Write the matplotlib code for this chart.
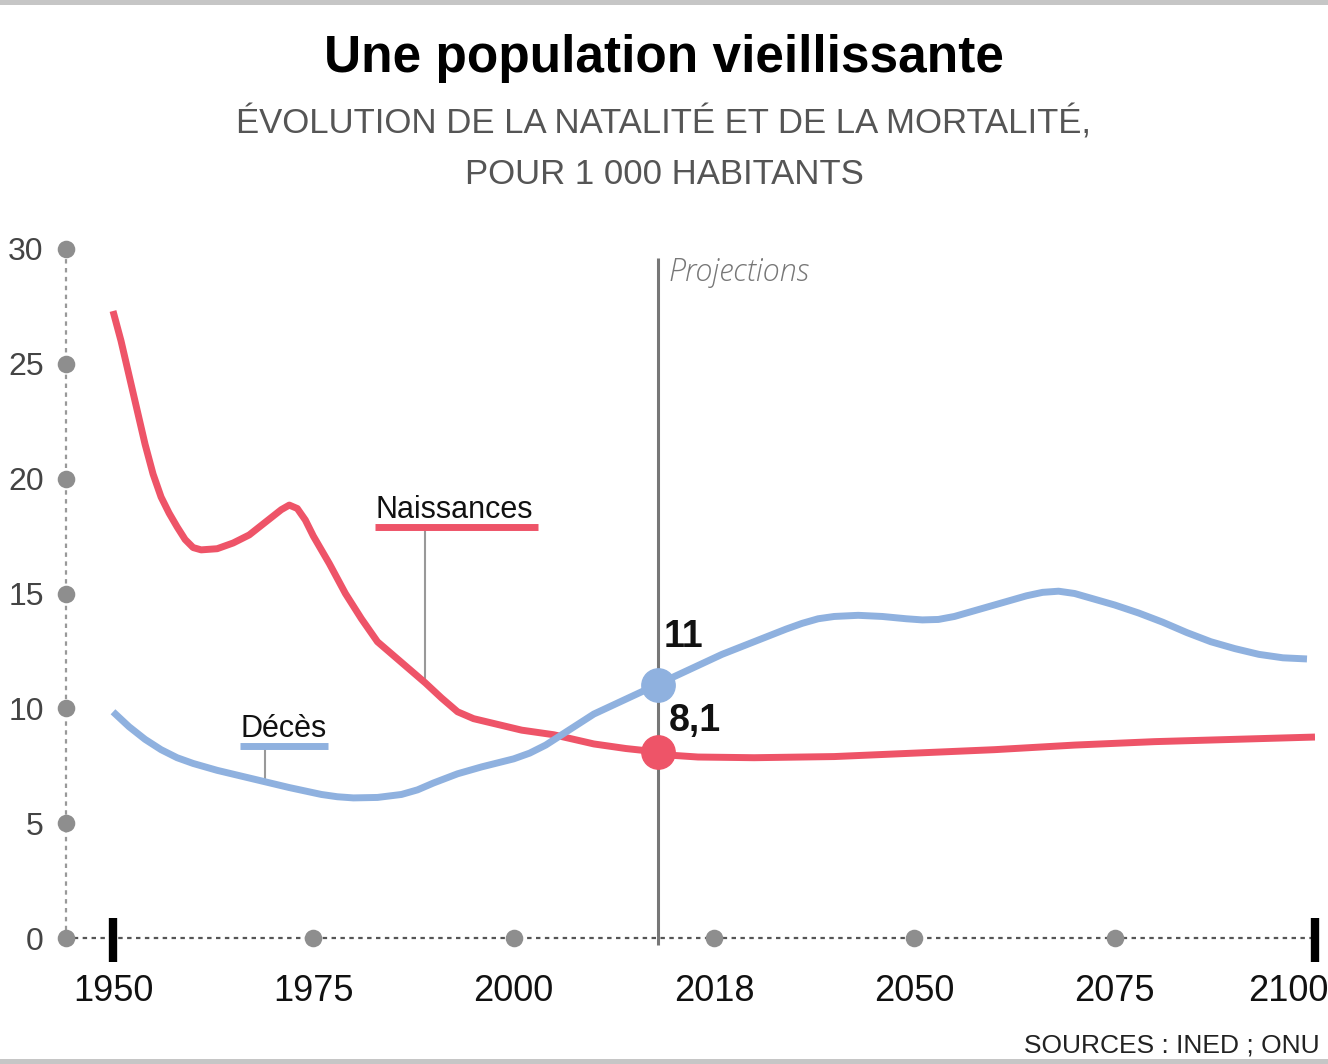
import numpy as np
import matplotlib
matplotlib.use("Agg")
import matplotlib.pyplot as plt
import matplotlib.transforms as mtransforms

# --- data (per 1 000 inhabitants) ---
years_births = [1950, 1951, 1952, 1953, 1954, 1955, 1956, 1957, 1958, 1959, 1960,
                1961, 1963, 1965, 1967, 1969, 1971, 1972, 1973, 1974, 1975, 1977,
                1979, 1981, 1983, 1985, 1987, 1989, 1991, 1993, 1995, 1998, 2001,
                2005, 2010, 2014, 2018, 2020, 2023, 2030, 2040, 2050, 2060, 2070,
                2080, 2090, 2100]
births = [27.3, 26.0, 24.5, 23.0, 21.5, 20.2, 19.2, 18.5, 17.9, 17.35, 17.0,
          16.9, 16.95, 17.2, 17.55, 18.1, 18.65, 18.85, 18.7, 18.2, 17.5, 16.3,
          15.0, 13.9, 12.9, 12.3, 11.7, 11.1, 10.45, 9.85, 9.55, 9.3, 9.05,
          8.85, 8.45, 8.25, 8.1, 7.95, 7.88, 7.85, 7.9, 8.05, 8.2, 8.4,
          8.55, 8.65, 8.75]

years_deaths = [1950, 1952, 1954, 1956, 1958, 1960, 1963, 1966, 1969, 1972, 1976,
                1978, 1980, 1983, 1986, 1988, 1990, 1993, 1996, 2000, 2002, 2004,
                2006, 2008, 2010, 2014, 2018, 2022, 2026, 2030, 2034, 2036, 2038,
                2040, 2043, 2046, 2049, 2051, 2053, 2055, 2058, 2061, 2064, 2066,
                2068, 2070, 2072, 2075, 2078, 2081, 2084, 2087, 2090, 2093, 2096,
                2099]
deaths = [9.85, 9.2, 8.65, 8.2, 7.85, 7.6, 7.3, 7.05, 6.8, 6.55, 6.25,
          6.15, 6.1, 6.12, 6.25, 6.45, 6.75, 7.15, 7.45, 7.8, 8.05, 8.4,
          8.85, 9.3, 9.75, 10.4, 11.05, 11.7, 12.35, 12.9, 13.45, 13.7, 13.9,
          14.0, 14.05, 14.0, 13.9, 13.85, 13.87, 14.0, 14.3, 14.6, 14.9, 15.05,
          15.1, 15.0, 14.8, 14.5, 14.15, 13.75, 13.3, 12.9, 12.6, 12.35, 12.2,
          12.15]

proj_year = 2018
births_2018 = 8.1
deaths_2018 = 11.0

yticks = [0, 5, 10, 15, 20, 25, 30]
xdots = [1975, 2000, 2025, 2050, 2075]
xtick_pos = [1950, 1975, 2000, 2025, 2050, 2075, 2100]
xtick_labels = ["1950", "1975", "2000", "2018", "2050", "2075", "2100"]

RED = "#ee5468"
BLUE = "#8fb1df"
DOT = "#8e8e8e"

plt.rcParams["font.family"] = ["Liberation Sans", "DejaVu Sans"]

fig = plt.figure(figsize=(13.28, 10.64), dpi=100)
W, H = 1328, 1064
ax = fig.add_axes([66 / W, 1 - 938 / H, (1315 - 66) / W, (938 - 249) / H])
x0 = 1950 - 47 / 8.013
ax.set_xlim(x0, 2100)
ax.set_ylim(0, 30)

# axes look
for s in ["top", "right"]:
    ax.spines[s].set_visible(False)
ax.spines["left"].set_linestyle((0, (1, 3)))
ax.spines["left"].set_color("#999999")
ax.spines["left"].set_linewidth(1.6)
ax.spines["bottom"].set_linestyle((0, (1, 3)))
ax.spines["bottom"].set_color("#555555")
ax.spines["bottom"].set_linewidth(1.6)

ax.set_yticks(yticks)
ax.set_yticklabels([str(v) for v in yticks], color="#444444", fontsize=23)
ax.tick_params(axis="y", length=0, pad=16)
ax.set_xticks(xtick_pos)
ax.set_xticklabels(xtick_labels, color="#111111", fontsize=26)
ax.tick_params(axis="x", length=0, pad=26)
last = ax.get_xticklabels()[-1]
last.set_horizontalalignment("right")
last.set_transform(last.get_transform() + mtransforms.ScaledTranslation(13 / 100, 0, fig.dpi_scale_trans))

# gray dots on axes
trans_y = mtransforms.blended_transform_factory(ax.transAxes, ax.transData)
ax.scatter([0] * len(yticks), yticks, s=160, color=DOT, transform=trans_y, clip_on=False, zorder=3, lw=0)
ax.scatter(xdots, [0] * len(xdots), s=160, color=DOT, clip_on=False, zorder=3, lw=0)
ax.vlines([1950, 2100], -1.05, 0.87, color="black", lw=6, clip_on=False, zorder=4)

# projections line
ax.vlines(proj_year, -0.3, 29.6, color="#777777", lw=2.2, clip_on=False, zorder=2)
ax.text(proj_year + 1.3, 28.6, "Projections", fontsize=22, style="italic", color="#777777",
        va="baseline", ha="left", family=["Open Sans", "DejaVu Sans"], fontweight="light")

# series
ax.plot(years_births, births, color=RED, lw=5, solid_joinstyle="round", solid_capstyle="butt", zorder=5)
ax.plot(years_deaths, deaths, color=BLUE, lw=5, solid_joinstyle="round", solid_capstyle="butt", zorder=5)
ax.plot([proj_year], [births_2018], "o", color=RED, ms=24, zorder=6)
ax.plot([proj_year], [deaths_2018], "o", color=BLUE, ms=24, zorder=6)
ax.text(proj_year + 0.7, 12.65, "11", fontsize=27, fontweight="bold", color="#111111", va="baseline")
ax.text(proj_year + 1.3, 9.0, "8,1", fontsize=27, fontweight="bold", color="#111111", va="baseline")

# series labels
ax.text(1982.7, 18.3, "Naissances", fontsize=22, color="#111111", va="baseline", ha="left")
ax.plot([1982.7, 2003.0], [17.9, 17.9], color=RED, lw=5, solid_capstyle="butt")
ax.plot([1988.9, 1988.9], [17.9, 11.2], color="#999999", lw=1.5, zorder=1)
ax.text(1965.85, 8.75, "Décès", fontsize=22, color="#111111", va="baseline", ha="left")
ax.plot([1965.85, 1976.8], [8.36, 8.36], color=BLUE, lw=5, solid_capstyle="butt")
ax.plot([1969.0, 1969.0], [8.36, 6.9], color="#999999", lw=1.5, zorder=1)

# titles
fig.text(0.5, 1 - 72 / H, "Une population vieillissante", ha="center", va="baseline",
         fontsize=37, fontweight="bold", color="black")
fig.text(0.5, 1 - 134 / H, "ÉVOLUTION DE LA NATALITÉ ET DE LA MORTALITÉ,", ha="center",
         va="baseline", fontsize=25, color="#555555")
fig.text(0.5, 1 - 184 / H, "POUR 1 000 HABITANTS", ha="center", va="baseline",
         fontsize=25, color="#555555")
fig.text(1320 / W, 1 - 1053 / H, "SOURCES : INED ; ONU", ha="right", va="baseline",
         fontsize=19, color="#222222")

# frame bars top and bottom
fig.add_artist(plt.Rectangle((0, 1 - 5 / H), 1, 5 / H, transform=fig.transFigure, color="#c6c6c6", lw=0))
fig.add_artist(plt.Rectangle((0, 0), 1, 5 / H, transform=fig.transFigure, color="#c6c6c6", lw=0))

fig.savefig("out.png", dpi=100)
